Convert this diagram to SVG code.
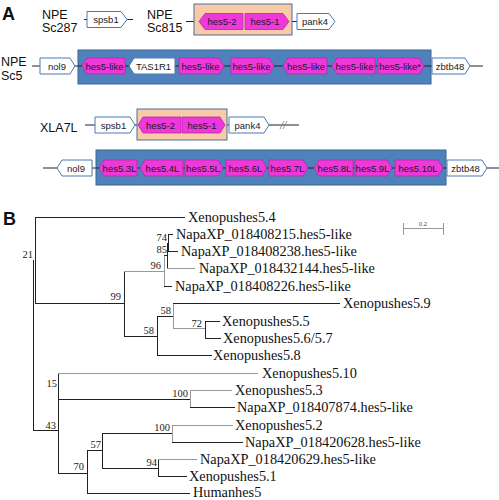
<svg xmlns="http://www.w3.org/2000/svg" width="499" height="500" viewBox="0 0 499 500">
<style>
.bg{fill:#fff}
.panel{font-family:"Liberation Sans",Arial,sans-serif;font-weight:bold;fill:#111}
.lbl{font-family:"Liberation Sans",Arial,sans-serif;font-size:12.5px;fill:#111}
.blue{fill:#4f81bd;stroke:#3a6494;stroke-width:1}
.salmon{fill:#f8caa8;stroke:#4d6f99;stroke-width:1}
.mg{fill:#ee38da;stroke:#b52aa8;stroke-width:0.8}
.wh{fill:#fff;stroke:#4a7ab5;stroke-width:1}
.gt{font-family:"Liberation Sans",Arial,sans-serif;font-size:9.5px;fill:#1a1a1a;text-anchor:middle}
.chr{stroke:#222;stroke-width:1.2;fill:none}
.br{stroke:#222;stroke-width:1;fill:none}
.brg{stroke:#999;stroke-width:1;fill:none}
.leaf{font-family:"Liberation Serif","Times New Roman",serif;font-size:14.3px;fill:#111}
.bs{font-family:"Liberation Serif","Times New Roman",serif;font-size:10.5px;fill:#222;text-anchor:end}
</style>
<rect class="bg" x="0" y="0" width="499" height="500"/>

<text class="panel" x="2" y="19.5" font-size="18">A</text>
<text class="panel" x="3" y="225" font-size="18">B</text>

<g id="connectors">
  <line class="chr" x1="84" y1="19.5" x2="133" y2="19.5"/>
  <line class="chr" x1="186" y1="21.5" x2="297" y2="21.5"/>
  <line class="chr" x1="32" y1="66" x2="483" y2="66"/>
  <line class="chr" x1="85" y1="125" x2="299" y2="125"/>
  <line stroke="#777" stroke-width="0.8" x1="280" y1="129" x2="284" y2="121"/>
  <line stroke="#777" stroke-width="0.8" x1="283" y1="129" x2="287" y2="121"/>
  <line class="chr" x1="43" y1="168" x2="499" y2="168"/>

  <line class="br" x1="35" y1="217.5" x2="185" y2="217.5" stroke="#333"/>
  <line class="br" x1="35.5" y1="217" x2="35.5" y2="304"/>
  <line class="br" x1="33.5" y1="260" x2="33.5" y2="430" stroke="#555"/>
  <line class="br" x1="35" y1="303.5" x2="124" y2="303.5"/>
  <line class="br" x1="124.5" y1="271" x2="124.5" y2="336"/>
  <line class="brg" x1="124" y1="271.5" x2="164" y2="271.5"/>
  <line class="brg" x1="164.5" y1="256" x2="164.5" y2="286"/>
  <line class="br" x1="164" y1="255.5" x2="167" y2="255.5"/>
  <line class="br" x1="164" y1="286.5" x2="172" y2="286.5"/>
  <line class="br" x1="167.5" y1="243" x2="167.5" y2="269"/>
  <line class="brg" x1="167" y1="268.5" x2="195" y2="268.5"/>
  <line class="br" x1="167" y1="243.5" x2="168.5" y2="243.5"/>
  <line class="br" x1="168.5" y1="234" x2="168.5" y2="252"/>
  <line class="br" x1="168" y1="234.5" x2="173" y2="234.5"/>
  <line class="br" x1="168" y1="251.5" x2="178" y2="251.5"/>
  <line class="br" x1="124" y1="336.5" x2="157" y2="336.5"/>
  <line class="br" x1="157.5" y1="316" x2="157.5" y2="355"/>
  <line class="br" x1="157" y1="316.5" x2="173" y2="316.5"/>
  <line class="br" x1="157" y1="355.5" x2="212" y2="355.5"/>
  <line class="brg" x1="173.5" y1="303.5" x2="173.5" y2="328"/>
  <line class="br" x1="173" y1="303.5" x2="340" y2="303.5"/>
  <line class="brg" x1="173" y1="328.5" x2="205" y2="328.5"/>
  <line class="br" x1="205.5" y1="321" x2="205.5" y2="338"/>
  <line class="br" x1="205" y1="321.5" x2="220" y2="321.5"/>
  <line class="br" x1="205" y1="338.5" x2="221" y2="338.5"/>

  <line class="br" x1="33" y1="430.5" x2="58" y2="430.5"/>
  <line class="br" x1="58.5" y1="373" x2="58.5" y2="473"/>
  <line class="brg" x1="58" y1="373.5" x2="258" y2="373.5"/>
  <line class="br" x1="58" y1="399.5" x2="190" y2="399.5"/>
  <line class="brg" x1="190.5" y1="390" x2="190.5" y2="407"/>
  <line class="brg" x1="190" y1="390.5" x2="232" y2="390.5"/>
  <line class="br" x1="190" y1="407.5" x2="235" y2="407.5"/>
  <line class="br" x1="58" y1="473.5" x2="87" y2="473.5"/>
  <line class="br" x1="87.5" y1="450" x2="87.5" y2="494"/>
  <line class="br" x1="87" y1="450.5" x2="102" y2="450.5"/>
  <line class="br" x1="102.5" y1="433" x2="102.5" y2="468"/>
  <line class="br" x1="102" y1="433.5" x2="172" y2="433.5"/>
  <line class="brg" x1="172.5" y1="425" x2="172.5" y2="442"/>
  <line class="brg" x1="172" y1="425.5" x2="233" y2="425.5"/>
  <line class="br" x1="172" y1="442.5" x2="243" y2="442.5"/>
  <line class="br" x1="102" y1="468.5" x2="158" y2="468.5"/>
  <line class="br" x1="158.5" y1="459" x2="158.5" y2="476"/>
  <line class="brg" x1="158" y1="459.5" x2="197" y2="459.5"/>
  <line class="br" x1="158" y1="476.5" x2="187" y2="476.5"/>
  <line class="br" x1="87" y1="493.5" x2="190" y2="493.5"/>
</g>

<g id="sc287">
  <text class="lbl" x="42" y="18.5">NPE</text>
  <text class="lbl" x="42" y="31.5">Sc287</text>
  <g id="sc287-spsb1"><path class="wh" d="M87,11.5 H121 L127,19.5 L121,27.5 H87 Z"/><text class="gt" x="106" y="23">spsb1</text></g>
</g>

<g id="sc815">
  <text class="lbl" x="147" y="18.5">NPE</text>
  <text class="lbl" x="147" y="31.5">Sc815</text>
  <rect id="sc815-cluster" class="salmon" x="194" y="4" width="98" height="31"/>
  <g id="sc815-hes5-2"><path class="mg" d="M205,13.5 H243 V29.5 H205 L199,21.5 Z"/><text class="gt" x="222" y="25" font-size="10">hes5-2</text></g>
  <g id="sc815-hes5-1"><path class="mg" d="M245,13.5 H283 L289,21.5 L283,29.5 H245 Z"/><text class="gt" x="265" y="25" font-size="10">hes5-1</text></g>
  <g id="sc815-pank4"><path class="wh" d="M297,13.5 H329 L335,21.5 L329,29.5 H297 Z"/><text class="gt" x="315" y="25">pank4</text></g>
</g>

<g id="sc5">
  <text class="lbl" x="1" y="65.5">NPE</text>
  <text class="lbl" x="1" y="79.5">Sc5</text>
  <rect id="sc5-cluster" class="blue" x="78" y="50" width="353" height="34"/>
  <line class="chr" x1="78" y1="66" x2="431" y2="66"/>
  <g id="sc5-nol9"><path class="wh" d="M40,58 H70 L75,66 L70,74 H40 Z"/><text class="gt" x="57" y="69.5">nol9</text></g>
  <g id="sc5-g1"><path class="mg" d="M87,58 H125 V74 H87 L82,66 Z"/><text class="gt" x="104.5" y="69.5">hes5-like</text></g>
  <g id="sc5-tas1r1"><path class="wh" d="M134,58 H175 V74 H134 L129,66 Z"/><text class="gt" x="153.5" y="69.5">TAS1R1</text></g>
  <g id="sc5-g3"><path class="mg" d="M179,58 H219 L224,66 L219,74 H179 Z"/><text class="gt" x="200.5" y="69.5">hes5-like</text></g>
  <g id="sc5-g4"><path class="mg" d="M231,58 H269 L274,66 L269,74 H231 Z"/><text class="gt" x="251.5" y="69.5">hes5-like</text></g>
  <g id="sc5-g5"><path class="mg" d="M288,58 H327 V74 H288 L283,66 Z"/><text class="gt" x="306" y="69.5">hes5-like</text></g>
  <g id="sc5-g6"><path class="mg" d="M337,58 H375 V74 H337 L332,66 Z"/><text class="gt" x="354.5" y="69.5">hes5-like</text></g>
  <g id="sc5-g7"><path class="mg" d="M378,58 H419 L424,66 L419,74 H378 Z"/><text class="gt" x="400" y="69.5">hes5-like*</text></g>
  <g id="sc5-zbtb48"><path class="wh" d="M432,58 H465 L470,66 L465,74 H432 Z"/><text class="gt" x="450" y="69.5">zbtb48</text></g>
</g>

<g id="xla7l">
  <text class="lbl" x="40" y="131.5" font-size="13">XLA7L</text>
  <rect id="xla7l-cluster" class="salmon" x="137" y="109" width="90" height="31"/>
  <g id="xla7l-spsb1"><path class="wh" d="M95,117 H130 L135,125 L130,133 H95 Z"/><text class="gt" x="113.5" y="128.5">spsb1</text></g>
  <g id="xla7l-hes5-2"><path class="mg" d="M143,117 H181 V133 H143 L138,125 Z"/><text class="gt" x="160.5" y="128.5">hes5-2</text></g>
  <g id="xla7l-hes5-1"><path class="mg" d="M182,117 H220 L225,125 L220,133 H182 Z"/><text class="gt" x="202" y="128.5">hes5-1</text></g>
  <g id="xla7l-pank4"><path class="wh" d="M229,117 H264 L269,125 L264,133 H229 Z"/><text class="gt" x="247.5" y="128.5">pank4</text></g>
</g>

<g id="xla7l-b">
  <rect id="xla7l-b-cluster" class="blue" x="96" y="150" width="350" height="35"/>
  <line class="chr" x1="96" y1="168" x2="446" y2="168"/>
  <g id="b-nol9"><path class="wh" d="M62,160 H92 V176 H62 L57,168 Z"/><text class="gt" x="76" y="171.5">nol9</text></g>
  <g id="b-hes53"><path class="mg" d="M104,160 H137 V176 H104 L99,168 Z"/><text class="gt" x="119.5" y="171.5">hes5.3L</text></g>
  <g id="b-hes54"><path class="mg" d="M145,160 H183 V176 H145 L140,168 Z"/><text class="gt" x="162.5" y="171.5">hes5.4L</text></g>
  <g id="b-hes55"><path class="mg" d="M185,160 H218 L223,168 L218,176 H185 Z"/><text class="gt" x="203" y="171.5">hes5.5L</text></g>
  <g id="b-hes56"><path class="mg" d="M226,160 H262 L267,168 L262,176 H226 Z"/><text class="gt" x="245.5" y="171.5">hes5.6L</text></g>
  <g id="b-hes57"><path class="mg" d="M269,160 H303 L308,168 L303,176 H269 Z"/><text class="gt" x="287.5" y="171.5">hes5.7L</text></g>
  <g id="b-hes58"><path class="mg" d="M319,160 H353 V176 H319 L314,168 Z"/><text class="gt" x="334.5" y="171.5">hes5.8L</text></g>
  <g id="b-hes59"><path class="mg" d="M355,160 H387 L392,168 L387,176 H355 Z"/><text class="gt" x="372.5" y="171.5">hes5.9L</text></g>
  <g id="b-hes510"><path class="mg" d="M395,160 H438 L443,168 L438,176 H395 Z"/><text class="gt" x="418" y="171.5">hes5.10L</text></g>
  <g id="b-zbtb48"><path class="wh" d="M447,160 H482 L487,168 L482,176 H447 Z"/><text class="gt" x="465.5" y="171.5">zbtb48</text></g>
</g>

<g id="leaves">
  <text class="leaf" x="188" y="222">Xenopushes5.4</text>
  <text class="leaf" x="176" y="239">NapaXP_018408215.hes5-like</text>
  <text class="leaf" x="181" y="256">NapaXP_018408238.hes5-like</text>
  <text class="leaf" x="199" y="273">NapaXP_018432144.hes5-like</text>
  <text class="leaf" x="175" y="291">NapaXP_018408226.hes5-like</text>
  <text class="leaf" x="343" y="308">Xenopushes5.9</text>
  <text class="leaf" x="222" y="326">Xenopushes5.5</text>
  <text class="leaf" x="223" y="343">Xenopushes5.6/5.7</text>
  <text class="leaf" x="213" y="360">Xenopushes5.8</text>
  <text class="leaf" x="262" y="378">Xenopushes5.10</text>
  <text class="leaf" x="235" y="395">Xenopushes5.3</text>
  <text class="leaf" x="237" y="412">NapaXP_018407874.hes5-like</text>
  <text class="leaf" x="235" y="430">Xenopushes5.2</text>
  <text class="leaf" x="245" y="447">NapaXP_018420628.hes5-like</text>
  <text class="leaf" x="200" y="464">NapaXP_018420629.hes5-like</text>
  <text class="leaf" x="189" y="481">Xenopushes5.1</text>
  <text class="leaf" x="193" y="497" font-size="14">Humanhes5</text>
</g>

<g id="bootstrap">
  <text class="bs" x="33" y="258">21</text>
  <text class="bs" x="167" y="241">74</text>
  <text class="bs" x="167" y="253">85</text>
  <text class="bs" x="161" y="269">96</text>
  <text class="bs" x="121" y="300">99</text>
  <text class="bs" x="171" y="313.5">58</text>
  <text class="bs" x="154" y="334">58</text>
  <text class="bs" x="202" y="327">72</text>
  <text class="bs" x="57" y="387">15</text>
  <text class="bs" x="188" y="397">100</text>
  <text class="bs" x="56" y="429">43</text>
  <text class="bs" x="170" y="431">100</text>
  <text class="bs" x="101" y="448">57</text>
  <text class="bs" x="157" y="466">94</text>
  <text class="bs" x="84" y="470">70</text>
</g>

<g id="scalebar">
  <line stroke="#999" stroke-width="1" x1="403" y1="228.5" x2="444" y2="228.5"/>
  <line stroke="#999" stroke-width="1" x1="403.5" y1="223" x2="403.5" y2="235"/>
  <line stroke="#999" stroke-width="1" x1="443.5" y1="223" x2="443.5" y2="235"/>
  <text x="423" y="226" font-family="Liberation Sans, Arial, sans-serif" font-size="6" fill="#555" text-anchor="middle">0.2</text>
</g>
</svg>
